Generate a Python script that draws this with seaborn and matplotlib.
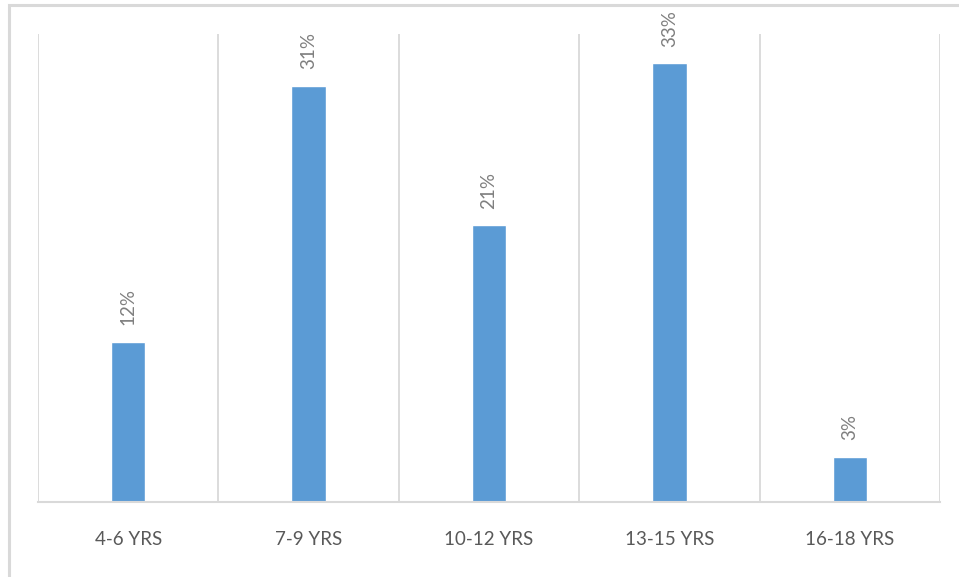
import matplotlib
matplotlib.use("Agg")
import matplotlib.pyplot as plt
import seaborn as sns
import pandas as pd
from matplotlib.patches import Rectangle

categories = ["4-6 YRS", "7-9 YRS", "10-12 YRS", "13-15 YRS", "16-18 YRS"]
values = [0.12, 0.311, 0.207, 0.328, 0.034]
value_labels = ["12%", "31%", "21%", "33%", "3%"]

df = pd.DataFrame({"age": categories, "share": values})

sns.set_theme(style="white")
plt.rcParams["font.family"] = ["Lato", "DejaVu Sans"]

fig = plt.figure(figsize=(9.59, 5.77), dpi=100)
ax = fig.add_axes([38/959, 1 - 502/577, (940 - 38)/959, (502 - 34)/577])

sns.barplot(data=df, x="age", y="share", color="#5B9BD5", width=0.19,
            saturation=1, ax=ax)

ax.set_xlim(-0.5, len(categories) - 0.5)
ax.set_ylim(0, 0.35)

grid_c = "#D9D9D9"
ax.set_xticks([i + 0.5 for i in range(-1, len(categories))], minor=True)
ax.grid(True, which="minor", axis="x", color=grid_c, linewidth=1.3)
ax.grid(False, which="major")
ax.set_axisbelow(True)

for s in ["top", "left", "right"]:
    ax.spines[s].set_visible(False)
ax.spines["bottom"].set_color(grid_c)
ax.spines["bottom"].set_linewidth(1.5)

ax.set_yticks([])
ax.set_xlabel("")
ax.set_ylabel("")
ax.tick_params(axis="x", which="both", length=0, pad=21, labelsize=13.5,
               labelcolor="#595959")

ax.bar_label(ax.containers[0], labels=value_labels, rotation=90, padding=12,
             fontsize=13.5, color="#7F7F7F")

fig.patches.append(Rectangle((9/959, -0.1), 1.2, (1 - 5/577) + 0.1,
                             transform=fig.transFigure, fill=False,
                             edgecolor=grid_c, linewidth=2.2))

fig.savefig("out.png", dpi=100, facecolor="white")
